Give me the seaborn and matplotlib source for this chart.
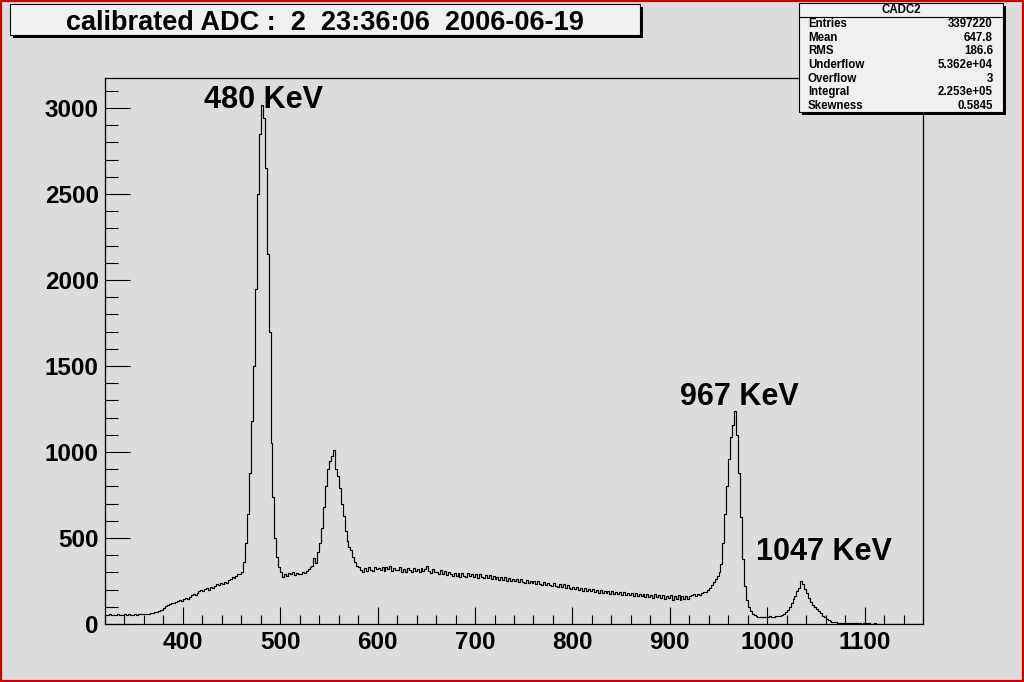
import numpy as np
import pandas as pd
import seaborn as sns
import matplotlib.pyplot as plt
from matplotlib.patches import Rectangle
from matplotlib.ticker import MultipleLocator

# ----- Settings -----
sns.set_style("ticks")
plt.rcParams.update({
    'font.family': ['Liberation Sans', 'DejaVu Sans'],
    'font.weight': 'bold',
    'text.color': 'black',
    'xtick.color': 'black',
    'ytick.color': 'black',
    'axes.edgecolor': 'black',
})
bg = '#dcdcdc'

# ----- Data (calibrated energy in keV, 2 keV bins from 320 to 1160) -----
e_min, e_max, bin_width = 320, 1160, 2
counts = [
    54, 50, 56, 52, 55, 53, 57, 51, 55, 54,               # 320-340
    56, 53, 58, 55, 52, 57, 54, 59, 56, 58,               # 340-360
    58, 61, 57, 63, 66, 70, 68, 76, 80, 84,               # 360-380
    92, 104, 110, 118, 124, 120, 130, 136, 140, 134,      # 380-400
    146, 150, 144, 158, 166, 172, 168, 182, 190, 196,     # 400-420
    192, 204, 210, 200, 216, 208, 222, 230, 226, 238,     # 420-440
    232, 244, 236, 256, 262, 272, 268, 282, 288, 292,     # 440-460
    300, 360, 470, 640, 880, 1180, 1500, 1950, 2500, 2850,    # 460-480
    3020, 2940, 2650, 2150, 1700, 1050, 740, 500, 390, 330,   # 480-500
    300, 276, 290, 282, 296, 288, 300, 284, 298, 292,     # 500-520
    292, 300, 296, 310, 318, 332, 340, 384, 356, 420,     # 520-540
    470, 560, 680, 800, 900, 950, 975, 1010, 900, 860,    # 540-560
    790, 700, 630, 540, 480, 450, 430, 390, 360, 340,     # 560-580
    330, 312, 304, 326, 308, 330, 316, 308, 332, 318,     # 580-600
    326, 314, 334, 308, 330, 318, 338, 306, 328, 314,     # 600-620
    316, 330, 304, 322, 300, 326, 312, 302, 324, 308,     # 620-640
    320, 300, 326, 310, 322, 340, 306, 298, 318, 300,     # 640-660
    304, 292, 312, 288, 306, 284, 302, 290, 282, 298,     # 660-680
    280, 294, 274, 296, 282, 272, 294, 278, 290, 274,     # 680-700
    288, 270, 292, 276, 266, 286, 270, 284, 264, 280,     # 700-720
    262, 276, 258, 274, 254, 272, 252, 268, 250, 264,     # 720-740
    248, 262, 242, 260, 246, 240, 258, 236, 252, 238,     # 740-760
    250, 232, 248, 234, 228, 244, 224, 240, 226, 220,     # 760-780
    236, 222, 216, 232, 214, 230, 210, 226, 212, 206,     # 780-800
    218, 202, 216, 196, 212, 194, 208, 190, 206, 192,     # 800-820
    202, 186, 200, 182, 198, 180, 194, 178, 192, 176,     # 820-840
    190, 174, 188, 172, 186, 170, 184, 166, 182, 168,     # 840-860
    180, 164, 178, 160, 176, 162, 174, 156, 172, 158,     # 860-880
    170, 154, 172, 156, 168, 152, 166, 146, 164, 150,     # 880-900
    166, 138, 162, 146, 168, 142, 160, 148, 164, 144,     # 900-920
    160, 166, 172, 160, 176, 166, 182, 186, 184, 198,     # 920-940
    210, 226, 244, 262, 280, 300, 350, 470, 640, 800,     # 940-960
    960, 1090, 1160, 1240, 1100, 880, 620, 380, 220, 140,     # 960-980
    96, 74, 58, 50, 46, 42, 40, 38, 42, 40,               # 980-1000
    38, 44, 40, 42, 46, 44, 48, 52, 60, 72,               # 1000-1020
    84, 100, 120, 145, 165, 190, 212, 250, 232, 205,      # 1020-1040
    178, 150, 128, 110, 100, 90, 76, 62, 48, 40,          # 1040-1060
    30, 22, 18, 14, 12, 10, 8, 7, 6, 5,                   # 1060-1080
    5, 4, 5, 3, 4, 3, 4, 3, 2, 3,                         # 1080-1100
    3, 2, 3, 2, 2, 3, 2, 1, 2, 2,                         # 1100-1120
    2, 1, 2, 1, 2, 1, 1, 2, 1, 1,                         # 1120-1140
    1, 1, 2, 1, 0, 1, 1, 0, 1, 1,                         # 1140-1160
]
energy = np.arange(e_min, e_max, bin_width) + bin_width / 2
df = pd.DataFrame({'energy': energy, 'counts': counts})

peak_labels = ['480 KeV', '967 KeV', '1047 KeV']
peak_label_pos = [(422, 3000), (910, 1273), (989, 372)]

title_text = 'calibrated ADC :  2  23:36:06  2006-06-19'
stats_name = 'CADC2'
stats_keys = ['Entries', 'Mean', 'RMS', 'Underflow', 'Overflow', 'Integral', 'Skewness']
stats_vals = ['3397220', '647.8', '186.6', '5.362e+04', '3', '2.253e+05', '0.5845']

# ----- Figure -----
W, H = 1024, 682
fig = plt.figure(figsize=(W / 100, H / 100), dpi=100, facecolor=bg)


def fx(x):
    return x / W


def fy(y):
    return 1 - y / H


ax = fig.add_axes([fx(105), fy(624), fx(923) - fx(105), fy(78) - fy(624)])
ax.set_facecolor(bg)

sns.histplot(data=df, x='energy', weights='counts', binwidth=bin_width,
             binrange=(e_min, e_max), element='step', fill=False,
             color='black', linewidth=0.85, ax=ax)

ax.set_xlim(e_min, e_max)
ax.set_ylim(0, 3175)
ax.set_xlabel('')
ax.set_ylabel('')
ax.xaxis.set_major_locator(MultipleLocator(100))
ax.xaxis.set_minor_locator(MultipleLocator(20))
ax.yaxis.set_major_locator(MultipleLocator(500))
ax.yaxis.set_minor_locator(MultipleLocator(100))
for s in ax.spines.values():
    s.set_visible(True)
    s.set_linewidth(0.9)
    s.set_color('black')
ax.tick_params(axis='y', which='major', direction='in', length=18, width=0.8,
               pad=4.5, labelsize=17.5)
ax.tick_params(axis='y', which='minor', direction='in', length=9, width=0.8)
ax.tick_params(axis='x', which='major', direction='in', length=12.5, width=0.8,
               pad=5, labelsize=17.5)
ax.tick_params(axis='x', which='minor', direction='in', length=6.5, width=0.8)

for lab, (px, py) in zip(peak_labels, peak_label_pos):
    ax.text(px, py, lab, fontsize=22, fontweight='bold', ha='left', va='baseline')

# ----- Title box -----
fig.patches.append(Rectangle((fx(13), fy(38)), fx(643) - fx(13), fy(7) - fy(38),
                             transform=fig.transFigure, facecolor='black', edgecolor='none'))
fig.patches.append(Rectangle((fx(10), fy(35)), fx(640) - fx(10), fy(4) - fy(35),
                             transform=fig.transFigure, facecolor='#f0f0f0',
                             edgecolor='black', linewidth=0.8))
fig.text(fx(325), fy(22.5), title_text, ha='center', va='center', fontsize=19.5, fontweight='bold')

# ----- Stats box -----
fig.patches.append(Rectangle((fx(802), fy(115)), fx(1006) - fx(802), fy(6) - fy(115),
                             transform=fig.transFigure, facecolor='black', edgecolor='none'))
fig.patches.append(Rectangle((fx(799), fy(112)), fx(1003) - fx(799), fy(3) - fy(112),
                             transform=fig.transFigure, facecolor='#f0f0f0',
                             edgecolor='black', linewidth=0.8))
fig.add_artist(plt.Line2D([fx(799), fx(1003)], [fy(16.5), fy(16.5)],
                          transform=fig.transFigure, color='black', linewidth=0.8))
fig.text(fx(901), fy(10), stats_name, ha='center', va='center', fontsize=8.3, fontweight='bold')
for i, (k, v) in enumerate(zip(stats_keys, stats_vals)):
    yy = fy(24.3 + 13.6 * i)
    fig.text(fx(808), yy, k, ha='left', va='center', fontsize=8.3, fontweight='bold')
    fig.text(fx(993), yy, v, ha='right', va='center', fontsize=8.3, fontweight='bold')

# ----- Red canvas border -----
fig.patches.append(Rectangle((0, 0), 1, 1, transform=fig.transFigure, fill=False,
                             edgecolor='#cc0000', linewidth=3))

fig.savefig('out.png', dpi=100, facecolor=fig.get_facecolor())
